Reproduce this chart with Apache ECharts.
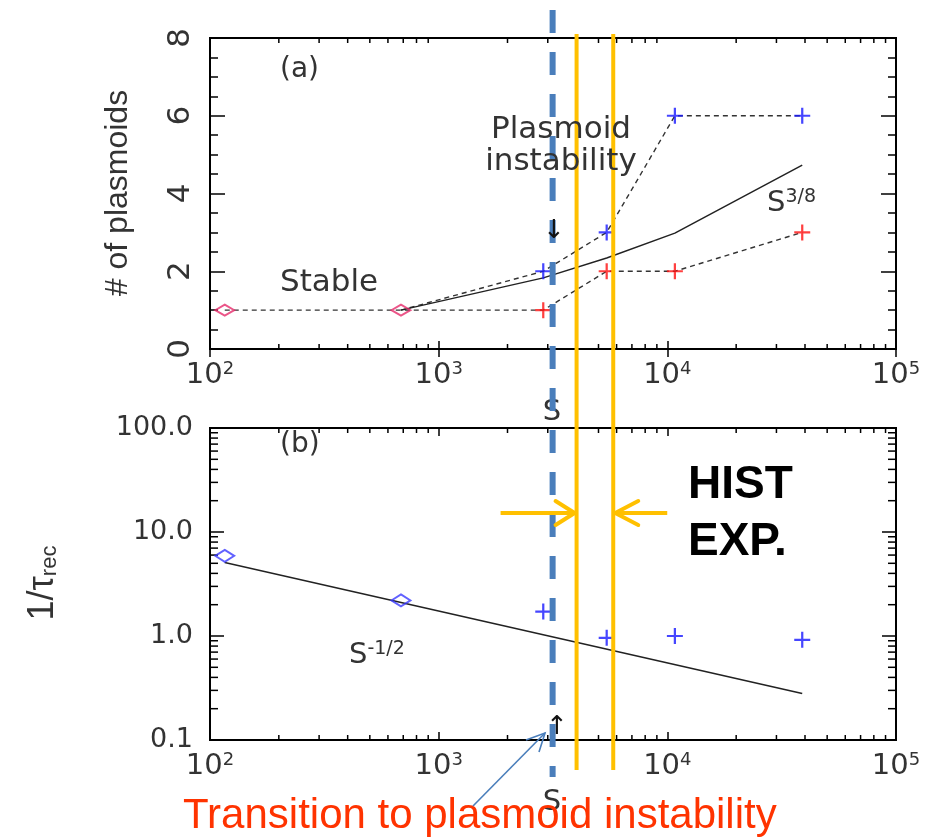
<!DOCTYPE html>
<html><head><meta charset="utf-8">
<script src="https://cdn.jsdelivr.net/npm/echarts@6/dist/echarts.min.js"></script>
<style>html,body{margin:0;padding:0;background:#fff}#c{width:942px;height:839px}</style>
</head><body><div id="c"></div>
<script>
// ---------------- data ----------------
const xTicks = [100, 1000, 10000, 100000];
const xTickExponents = ['2', '3', '4', '5'];
const xMinorTicks = [200, 300, 400, 500, 600, 700, 800, 900,
  2000, 3000, 4000, 5000, 6000, 7000, 8000, 9000,
  20000, 30000, 40000, 50000, 60000, 70000, 80000, 90000];
const yTicksA = [0, 2, 4, 6, 8];
const yTickLabelsA = ['0', '2', '4', '6', '8'];
const yTicksB = [0.1, 1, 10, 100];
const yTickLabelsB = ['0.1', '1.0', '10.0', '100.0'];
const yMinorTicksB = [0.2, 0.3, 0.4, 0.5, 0.6, 0.7, 0.8, 0.9,
  2, 3, 4, 5, 6, 7, 8, 9, 20, 30, 40, 50, 60, 70, 80, 90];

// panel (a): number of plasmoids
const redPathS = [116, 684, 2867, 5430, 10790, 38900];
const redPathN = [1, 1, 1, 2, 2, 3];
const bluePathS = [684, 2867, 5430, 10790, 38900];
const bluePathN = [1, 2, 3, 6, 6];
const stableS = [116, 684];
const stableN = [1, 1];
const redPlusS = [2867, 5430, 10790, 38900];
const redPlusN = [1, 2, 2, 3];
const bluePlusS = [2867, 5430, 10790, 38900];
const bluePlusN = [2, 3, 6, 6];
const fitAS = [684, 2867, 5430, 10790, 38900];
const fitAN = [1, 1.83, 2.34, 2.98, 4.73];

// panel (b): 1/tau_rec
const diamondBS = [116, 684];
const diamondBR = [5.9, 2.2];
const plusBS = [2867, 5430, 10790, 38900];
const plusBR = [1.72, 0.96, 1.0, 0.92];
const fitBS = [116, 38900];
const fitBR = [5.1, 0.28];

// reference lines
const criticalS = [3150];
const histExpS = [4010, 5800];

// ---------------- chart ----------------
const zip = (a, b) => a.map((v, i) => [v, b[i]]);
const FONT = '"DejaVu Sans"';
const TXT = '#333';
const PLUS = 'path://M0,4.3H10V5.7H0Z M4.3,0H5.7V10H4.3Z';
const RED = '#ff1010';
const BLUE = '#1818ff';
const PINK = '#e62a6a';

const chart = echarts.init(document.getElementById('c'), null, {renderer: 'canvas', width: 942, height: 839});

function xAxis(gridIndex, position, showLabel) {
  return {
    type: 'log', logBase: 10, gridIndex, position, min: 100, max: 100000,
    axisLine: {show: false}, splitLine: {show: false},
    axisTick: {show: true, inside: true, length: 8, lineStyle: {color: '#000', width: 1.5}},
    axisLabel: showLabel ? {
      show: true, margin: 11,
      formatter: v => {
        const k = xTicks.findIndex(t => Math.abs(Math.log10(t) - Math.log10(v)) < 1e-6);
        return '{b|10}{s|' + (k >= 0 ? xTickExponents[k] : '') + '}';
      },
      rich: {
        b: {fontFamily: 'DejaVu Sans', fontSize: 29, color: TXT, lineHeight: 31},
        s: {fontFamily: 'DejaVu Sans', fontSize: 18, color: TXT, lineHeight: 18, verticalAlign: 'top'}
      }
    } : {show: false}
  };
}
function yAxisA(position, showLabel) {
  return {
    type: 'value', gridIndex: 0, position, min: 0, max: 8, interval: 2,
    axisLine: {show: false}, splitLine: {show: false},
    axisTick: {show: true, inside: true, length: 15, lineStyle: {color: '#000', width: 1.5}},
    minorTick: {show: true, splitNumber: 4, length: 8, lineStyle: {color: '#000', width: 1.5}},
    axisLabel: showLabel ? {
      show: true, rotate: 90, margin: 14, fontFamily: 'DejaVu Sans', fontSize: 31, color: TXT,
      formatter: v => { const k = yTicksA.indexOf(Math.round(v)); return k >= 0 ? yTickLabelsA[k] : ''; }
    } : {show: false}
  };
}
function yAxisB(position, showLabel) {
  return {
    type: 'log', logBase: 10, gridIndex: 1, position, min: 0.1, max: 100,
    axisLine: {show: false}, splitLine: {show: false},
    axisTick: {show: true, inside: true, length: 14, lineStyle: {color: '#000', width: 1.5}},
    axisLabel: showLabel ? {
      show: true, margin: 17, fontFamily: 'DejaVu Sans', fontSize: 27, color: TXT,
      formatter: v => {
        const k = yTicksB.findIndex(t => Math.abs(Math.log10(t) - Math.log10(v)) < 1e-6);
        return k >= 0 ? yTickLabelsB[k] : '';
      }
    } : {show: false}
  };
}
function xMinorTickSeries(xi, yi, yLo, yHi) {
  return {
    type: 'custom', xAxisIndex: xi, yAxisIndex: yi, silent: true, clip: false, z: 3, animation: false,
    data: xMinorTicks.map(v => [v, yLo]),
    renderItem(params, api) {
      const v = api.value(0);
      const b = api.coord([v, yLo]), t = api.coord([v, yHi]);
      const st = {stroke: '#000', lineWidth: 1.5};
      return {type: 'group', children: [
        {type: 'line', shape: {x1: b[0], y1: b[1], x2: b[0], y2: b[1] - 5}, style: st},
        {type: 'line', shape: {x1: t[0], y1: t[1], x2: t[0], y2: t[1] + 5}, style: st}
      ]};
    }
  };
}

const dashed = {color: '#333', width: 1.4, type: [5, 4]};

const option = {
  backgroundColor: '#fff',
  animation: false,
  grid: [
    {left: 210, top: 38, width: 686, height: 311, show: true, borderColor: '#000', borderWidth: 2},
    {left: 210, top: 428, width: 686, height: 312, show: true, borderColor: '#000', borderWidth: 2}
  ],
  xAxis: [xAxis(0, 'bottom', true), xAxis(0, 'top', false), xAxis(1, 'bottom', true), xAxis(1, 'top', false)],
  yAxis: [yAxisA('left', true), yAxisA('right', false), yAxisB('left', true), yAxisB('right', false)],
  series: [
    // panel (a)
    {type: 'line', xAxisIndex: 0, yAxisIndex: 0, data: zip(redPathS, redPathN), symbol: 'none', lineStyle: dashed, z: 2},
    {type: 'line', xAxisIndex: 0, yAxisIndex: 0, data: zip(bluePathS, bluePathN), symbol: 'none', lineStyle: dashed, z: 2},
    {type: 'line', xAxisIndex: 0, yAxisIndex: 0, data: zip(fitAS, fitAN), symbol: 'none', lineStyle: {color: '#222', width: 1.5}, z: 2},
    {type: 'scatter', xAxisIndex: 0, yAxisIndex: 0, data: zip(stableS, stableN), symbol: 'diamond', symbolSize: [19, 11],
      itemStyle: {color: 'rgba(0,0,0,0)', borderColor: PINK, borderWidth: 2}, z: 4},
    {type: 'scatter', xAxisIndex: 0, yAxisIndex: 0, data: zip(redPlusS, redPlusN), symbol: PLUS, symbolSize: 16, itemStyle: {color: RED}, z: 4},
    {type: 'scatter', xAxisIndex: 0, yAxisIndex: 0, data: zip(bluePlusS, bluePlusN), symbol: PLUS, symbolSize: 16, itemStyle: {color: BLUE}, z: 4},
    // panel (b)
    {type: 'line', xAxisIndex: 2, yAxisIndex: 2, data: zip(fitBS, fitBR), symbol: 'none', lineStyle: {color: '#222', width: 1.5}, z: 2},
    {type: 'scatter', xAxisIndex: 2, yAxisIndex: 2, data: zip(diamondBS, diamondBR), symbol: 'diamond', symbolSize: [19, 12],
      itemStyle: {color: 'rgba(0,0,0,0)', borderColor: '#3a3aff', borderWidth: 2}, z: 4},
    {type: 'scatter', xAxisIndex: 2, yAxisIndex: 2, data: zip(plusBS, plusBR), symbol: PLUS, symbolSize: 16, itemStyle: {color: BLUE}, z: 4},
    // minor ticks on log axes
    xMinorTickSeries(0, 0, 0, 8),
    xMinorTickSeries(2, 2, 0.1, 100),
    {
      type: 'custom', xAxisIndex: 2, yAxisIndex: 2, silent: true, clip: false, z: 3,
      data: yMinorTicksB.map(v => [100, v]),
      renderItem(params, api) {
        const v = api.value(1);
        const l = api.coord([100, v]), r = api.coord([100000, v]);
        const st = {stroke: '#000', lineWidth: 1.5};
        return {type: 'group', children: [
          {type: 'line', shape: {x1: l[0], y1: l[1], x2: l[0] + 8, y2: l[1]}, style: st},
          {type: 'line', shape: {x1: r[0], y1: r[1], x2: r[0] - 8, y2: r[1]}, style: st}
        ]};
      }
    },
    // critical S (blue dashed)
    {
      type: 'custom', xAxisIndex: 0, yAxisIndex: 0, silent: true, clip: false, z: 20,
      data: criticalS.map(v => [v, 0]),
      renderItem(params, api) {
        const x = api.coord([api.value(0), 0])[0];
        return {type: 'line', shape: {x1: x, y1: 10, x2: x, y2: 777},
          style: {stroke: '#4a7ebb', lineWidth: 6, lineDash: [23, 19]}};
      }
    },
    // HIST experiment range (orange)
    {
      type: 'custom', xAxisIndex: 0, yAxisIndex: 0, silent: true, clip: false, z: 21,
      data: histExpS.map(v => [v, 0]),
      renderItem(params, api) {
        const x = api.coord([api.value(0), 0])[0];
        const c = '#ffc000';
        const ay = 513;
        const ch = [{type: 'line', shape: {x1: x, y1: 34, x2: x, y2: 770}, style: {stroke: c, lineWidth: 4}}];
        if (params.dataIndex === 0) {
          const tip = x - 2;
          ch.push({type: 'line', shape: {x1: tip - 74, y1: ay, x2: tip, y2: ay}, style: {stroke: c, lineWidth: 4}});
          ch.push({type: 'polyline', shape: {points: [[tip - 19, ay - 12], [tip, ay], [tip - 19, ay + 12]]},
            style: {stroke: c, lineWidth: 4, fill: null, lineCap: 'round', lineJoin: 'round'}});
        } else {
          const tip = x + 2;
          ch.push({type: 'line', shape: {x1: tip, y1: ay, x2: tip + 52, y2: ay}, style: {stroke: c, lineWidth: 4}});
          ch.push({type: 'polyline', shape: {points: [[tip + 23, ay - 12], [tip, ay], [tip + 23, ay + 12]]},
            style: {stroke: c, lineWidth: 4, fill: null, lineCap: 'round', lineJoin: 'round'}});
        }
        return {type: 'group', children: ch};
      }
    }
  ],
  graphic: [
    {type: 'text', x: 118, y: 193, rotation: Math.PI / 2, z: 30,
      style: {text: '# of plasmoids', font: '32px "Liberation Sans"', fill: TXT, align: 'center', verticalAlign: 'middle'}},
    {type: 'text', x: 42, y: 583, rotation: Math.PI / 2, z: 30,
      style: {text: '{a|1/τ}{b|rec}', align: 'center', verticalAlign: 'middle',
        rich: {a: {fontFamily: 'Liberation Sans', fontSize: 36, fill: TXT, lineHeight: 38, verticalAlign: 'bottom'},
               b: {fontFamily: 'Liberation Sans', fontSize: 22, fill: TXT, lineHeight: 22, verticalAlign: 'bottom'}}}},
    {type: 'text', x: 280, y: 70, z: 30, style: {text: '(a)', font: '28px ' + FONT, fill: TXT, verticalAlign: 'middle'}},
    {type: 'text', x: 280, y: 283, z: 30, style: {text: 'Stable', font: '31px ' + FONT, fill: TXT, verticalAlign: 'middle'}},
    {type: 'text', x: 561, y: 146, z: 30, style: {text: 'Plasmoid\ninstability', font: '31px ' + FONT, fill: TXT,
      align: 'center', verticalAlign: 'middle', lineHeight: 32}},
    {type: 'text', x: 767, y: 203, z: 30, style: {text: '{b|S}{s|3/8}', verticalAlign: 'middle',
      rich: {b: {fontFamily: 'DejaVu Sans', fontSize: 29, fill: TXT, lineHeight: 30},
             s: {fontFamily: 'DejaVu Sans', fontSize: 19, fill: TXT, lineHeight: 19, verticalAlign: 'top'}}}},
    {type: 'text', x: 554, y: 231, z: 25, style: {text: '↓', font: '26px ' + FONT, fill: '#111', align: 'center', verticalAlign: 'middle'}},
    {type: 'text', x: 552, y: 412, z: 19, style: {text: 'S', font: '29px ' + FONT, fill: TXT, align: 'center', verticalAlign: 'middle'}},
    {type: 'text', x: 280, y: 445, z: 30, style: {text: '(b)', font: '28px ' + FONT, fill: TXT, verticalAlign: 'middle'}},
    {type: 'text', x: 349, y: 655, z: 30, style: {text: '{b|S}{s|-1/2}', verticalAlign: 'middle',
      rich: {b: {fontFamily: 'DejaVu Sans', fontSize: 29, fill: TXT, lineHeight: 30},
             s: {fontFamily: 'DejaVu Sans', fontSize: 19, fill: TXT, lineHeight: 19, verticalAlign: 'top'}}}},
    {type: 'text', x: 557, y: 727, z: 25, style: {text: '↑', font: '26px ' + FONT, fill: '#111', align: 'center', verticalAlign: 'middle'}},
    {type: 'text', x: 552, y: 802, z: 19, style: {text: 'S', font: '29px ' + FONT, fill: TXT, align: 'center', verticalAlign: 'middle'}},
    {type: 'text', x: 688, y: 485, z: 30, style: {text: 'HIST', font: 'bold 46px "Liberation Sans"', fill: '#000', verticalAlign: 'middle'}},
    {type: 'text', x: 688, y: 542, z: 30, style: {text: 'EXP.', font: 'bold 46px "Liberation Sans"', fill: '#000', verticalAlign: 'middle'}},
    {type: 'text', x: 183, y: 816, z: 30, style: {text: 'Transition to plasmoid instability', font: '42px "Liberation Sans"', fill: '#ff3300', verticalAlign: 'middle'}},
    {type: 'line', z: 31, shape: {x1: 473, y1: 806, x2: 545, y2: 733}, style: {stroke: '#4a7ebb', lineWidth: 1.6}},
    {type: 'polyline', z: 31, shape: {points: [[526, 740], [545, 733], [539, 752]]}, style: {stroke: '#4a7ebb', lineWidth: 1.6, fill: null}}
  ]
};
chart.setOption(option);
</script>
</body></html>
